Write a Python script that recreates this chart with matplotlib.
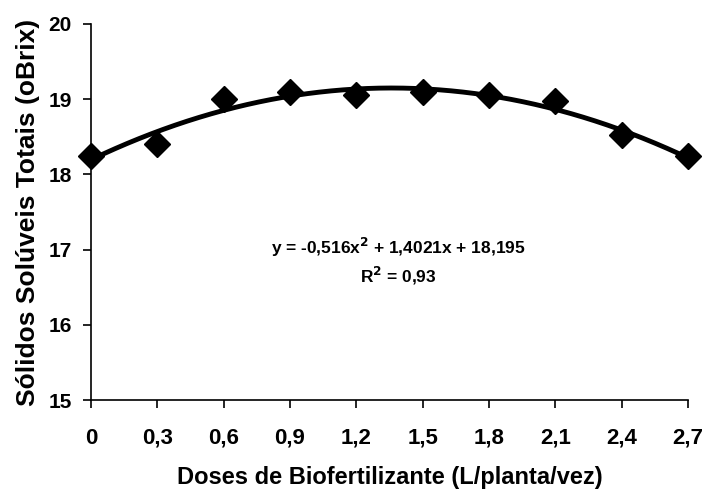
import numpy as np
import matplotlib
matplotlib.use('Agg')
import matplotlib.pyplot as plt

plt.rcParams['font.family'] = ['Liberation Sans', 'DejaVu Sans']
plt.rcParams['font.weight'] = 'bold'

# doses and measured values
doses = [0, 0.3, 0.6, 0.9, 1.2, 1.5, 1.8, 2.1, 2.4, 2.7]
brix = [18.25, 18.4, 19.0, 19.1, 19.05, 19.1, 19.05, 18.97, 18.52, 18.25]
xtick_labels = ['0', '0,3', '0,6', '0,9', '1,2', '1,5', '1,8', '2,1', '2,4', '2,7']
yticks = [15, 16, 17, 18, 19, 20]

# quadratic trendline coefficients shown on the chart
coef = [-0.516, 1.4021, 18.195]

fig = plt.figure(figsize=(7.06, 4.97), dpi=100)
ax = fig.add_axes([0.129, 0.195, 0.8455, 0.757])

xs = np.linspace(doses[0], doses[-1], 200)
ax.plot(xs, np.polyval(coef, xs), color='black', lw=3.5, zorder=2)
ax.plot(doses, brix, 'D', color='black', ms=13, zorder=3, clip_on=False)

ax.set_xlim(0, 2.7)
ax.set_ylim(15, 20)
ax.set_xticks(doses)
ax.set_xticklabels(xtick_labels)
ax.set_yticks(yticks)
ax.spines['top'].set_visible(False)
ax.spines['right'].set_visible(False)
for s in ['left', 'bottom']:
    ax.spines[s].set_linewidth(1.2)
ax.tick_params(axis='both', direction='out', length=6, width=1.2)
ax.tick_params(axis='x', pad=14, labelsize=16)
ax.tick_params(axis='y', pad=8, labelsize=15)

ax.set_xlabel('Doses de Biofertilizante (L/planta/vez)', fontsize=17, fontweight='bold', labelpad=12)
ax.set_ylabel('Sólidos Solúveis Totais (oBrix)', fontsize=19, fontweight='bold', labelpad=6)

ax.text(1.39, 17.03, r'y = -0,516x$^{\mathbf{2}}$ + 1,4021x + 18,195', ha='center', va='center',
        fontsize=12.5, fontweight='bold')
ax.text(1.39, 16.65, r'R$^{\mathbf{2}}$ = 0,93', ha='center', va='center',
        fontsize=12.5, fontweight='bold')

fig.savefig('out.png', dpi=100)
